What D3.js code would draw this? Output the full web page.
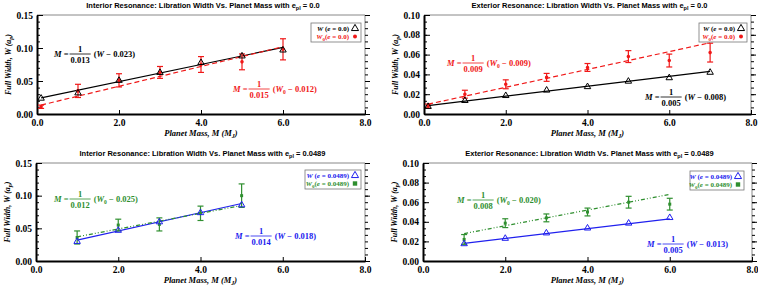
<!DOCTYPE html>
<html>
<head>
<meta charset="utf-8">
<script src="https://cdn.jsdelivr.net/npm/d3@7"></script>
<style>
  body { margin: 0; background: #fff; }
  svg { display: block; }
</style>
</head>
<body>
<div id="chart"></div>
<script>
// ---- data ----
// top-left: interior, e_pl = 0.0
var massIntE0 = [0.1, 1, 2, 3, 4, 5, 6];
var wIntE0 = [0.023, 0.031, 0.050, 0.062, 0.077, 0.087, 0.096];
var w0IntE0 = [0.011, 0.035, 0.051, 0.063, 0.075, 0.079, 0.098];
var errIntE0 = [0.0025, 0.010, 0.010, 0.009, 0.012, 0.012, 0.016];
var fitIntE0W = [0.023, 0.013];   // intercept, slope
var fitIntE0W0 = [0.012, 0.015];

// top-right: exterior, e_pl = 0.0
var massExtE0 = [0.1, 1, 2, 3, 4, 5, 6, 7];
var wExtE0 = [0.007, 0.013, 0.018, 0.0235, 0.027, 0.0325, 0.036, 0.0415];
var w0ExtE0 = [0.008, 0.020, 0.030, 0.037, 0.047, 0.058, 0.054, 0.062];
var errExtE0 = [0.002, 0.004, 0.0045, 0.004, 0.004, 0.006, 0.0065, 0.0095];
var fitExtE0W = [0.008, 0.005];
var fitExtE0W0 = [0.009, 0.009];

// bottom-left: interior, e_pl = 0.0489
var massIntE1 = [1, 2, 3, 4, 5];
var wIntE1 = [0.029, 0.046, 0.059, 0.073, 0.085];
var w0IntE1 = [0.036, 0.055, 0.056, 0.073, 0.100];
var errIntE1 = [0.010, 0.009, 0.010, 0.011, 0.018];
var fitIntE1W = [0.018, 0.014];
var fitIntE1W0 = [0.025, 0.012];

// bottom-right: exterior, e_pl = 0.0489
var massExtE1 = [1, 2, 3, 4, 5, 6];
var wExtE1 = [0.017, 0.0225, 0.028, 0.033, 0.038, 0.0437];
var w0ExtE1 = [0.022, 0.0386, 0.044, 0.050, 0.060, 0.058];
var errExtE1 = [0.005, 0.0045, 0.004, 0.004, 0.006, 0.006];
var fitExtE1W = [0.013, 0.005];
var fitExtE1W0 = [0.020, 0.008];

var xTicks = [0, 2, 4, 6, 8];

// ---- drawing ----
var svg = d3.select("#chart").append("svg")
  .attr("width", 758).attr("height", 291);

var serif = "'Liberation Serif', 'DejaVu Serif', serif";
var sans = "'Liberation Sans', Arial, sans-serif";

function drawPanel(p) {
  var g = svg.append("g");
  var x = d3.scaleLinear().domain([0, 8]).range([p.left, p.right]);
  var y = d3.scaleLinear().domain([0, p.ymax]).range([p.bottom, p.top]);

  // frame: top / right thin grey
  g.append("line").attr("x1", p.left).attr("x2", p.right).attr("y1", p.top).attr("y2", p.top)
    .attr("stroke", "#888").attr("stroke-width", 1);
  g.append("line").attr("x1", p.right).attr("x2", p.right).attr("y1", p.top).attr("y2", p.bottom)
    .attr("stroke", "#888").attr("stroke-width", 1);

  // minor ticks
  var minor = d3.range(0, p.ymax + 1e-9, p.ymajor / p.nminor);
  g.append("g").attr("transform", "translate(" + p.left + ",0)")
    .call(d3.axisLeft(y).tickValues(minor).tickFormat("").tickSize(-3).tickSizeOuter(0))
    .call(function (a) { a.select(".domain").remove(); });
  g.append("g").attr("transform", "translate(" + p.right + ",0)")
    .call(d3.axisRight(y).tickValues(minor).tickFormat("").tickSize(3).tickSizeOuter(0))
    .call(function (a) { a.select(".domain").remove(); });
  g.append("g").attr("transform", "translate(" + p.right + ",0)")
    .call(d3.axisRight(y).tickValues(d3.range(0, p.ymax + 1e-9, p.ymajor)).tickFormat("").tickSize(5).tickSizeOuter(0))
    .call(function (a) { a.select(".domain").remove(); });

  // left axis
  var yAxis = g.append("g").attr("transform", "translate(" + p.left + ",0)")
    .call(d3.axisLeft(y).tickValues(d3.range(0, p.ymax + 1e-9, p.ymajor))
      .tickFormat(d3.format(".2f")).tickSize(-6).tickSizeOuter(0).tickPadding(4));
  yAxis.select(".domain").attr("stroke-width", 2);
  yAxis.selectAll("text").style("font-family", serif).style("font-weight", "bold").style("font-size", "9.5px");

  // bottom axis
  var xAxis = g.append("g").attr("transform", "translate(0," + p.bottom + ")")
    .call(d3.axisBottom(x).tickValues(xTicks).tickFormat(d3.format(".1f"))
      .tickSize(-4).tickSizeOuter(0).tickPadding(5));
  xAxis.select(".domain").attr("stroke-width", 2);
  xAxis.selectAll("text").style("font-family", serif).style("font-weight", "bold").style("font-size", "9.5px");

  // title
  var t = g.append("text").attr("x", (p.left + p.right) / 2 + 2).attr("y", p.top - 7)
    .attr("text-anchor", "middle").style("font-family", sans).style("font-weight", "bold")
    .style("font-size", "7.5px").text(p.title + " with e");
  t.append("tspan").attr("dy", 2).style("font-size", "5.5px").text("pl");
  t.append("tspan").attr("dy", -2).text(" = " + p.ecc);

  // x label
  var xl = g.append("text").attr("x", (p.left + p.right) / 2).attr("y", p.bottom + 22)
    .attr("text-anchor", "middle").style("font-family", serif).style("font-weight", "bold")
    .style("font-style", "italic").style("font-size", "8.5px").text("Planet Mass, M (M");
  xl.append("tspan").attr("dy", 2).style("font-size", "6px").text("J");
  xl.append("tspan").attr("dy", -2).text(")");

  // y label
  var yc = (p.top + p.bottom) / 2;
  var yl = g.append("text").attr("transform", "translate(" + (p.left - 26) + "," + yc + ") rotate(-90)")
    .attr("text-anchor", "middle").style("font-family", serif).style("font-weight", "bold")
    .style("font-style", "italic").style("font-size", "8px").text("Full Width, W (a");
  yl.append("tspan").attr("dy", 2).style("font-size", "6px").text("p");
  yl.append("tspan").attr("dy", -2).text(")");

  // fit lines
  function fitLine(fit, color, dash, mass) {
    var m0 = d3.min(mass), m1 = d3.max(mass);
    g.append("line")
      .attr("x1", x(m0)).attr("y1", y(fit[0] + fit[1] * m0))
      .attr("x2", x(m1)).attr("y2", y(fit[0] + fit[1] * m1))
      .attr("stroke", color).attr("stroke-width", 1.2)
      .attr("stroke-dasharray", dash);
  }
  fitLine(p.fitW, p.cW, null, p.mass);
  fitLine(p.fitW0, p.cW0, p.dashW0, p.mass);

  // error bars
  var eb = g.append("g").attr("stroke", p.cW0).attr("stroke-width", 1.2);
  p.mass.forEach(function (m, i) {
    var lo = y(p.w0[i] - p.err[i]), hi = y(p.w0[i] + p.err[i]);
    eb.append("line").attr("x1", x(m)).attr("x2", x(m)).attr("y1", lo).attr("y2", hi);
    eb.append("line").attr("x1", x(m) - 3).attr("x2", x(m) + 3).attr("y1", lo).attr("y2", lo);
    eb.append("line").attr("x1", x(m) - 3).attr("x2", x(m) + 3).attr("y1", hi).attr("y2", hi);
  });

  // W0 markers
  var sym0 = d3.symbol().type(p.shapeW0).size(p.shapeW0 === d3.symbolSquare ? 9 : 10);
  g.selectAll(".w0").data(p.w0).enter().append("path")
    .attr("d", sym0)
    .attr("transform", function (d, i) { return "translate(" + x(p.mass[i]) + "," + y(d) + ")"; })
    .attr("fill", p.cW0);

  // W markers (open triangles)
  var tri = d3.symbol().type(d3.symbolTriangle).size(18);
  g.selectAll(".w").data(p.w).enter().append("path")
    .attr("d", tri)
    .attr("transform", function (d, i) { return "translate(" + x(p.mass[i]) + "," + (y(d) - 0.5) + ")"; })
    .attr("fill", "none").attr("stroke", p.cW).attr("stroke-width", 1);

  // equations
  p.eqs.forEach(function (e) { equation(g, e); });

  // legend
  var L = p.legend;
  g.append("rect").attr("x", L.x).attr("y", L.y).attr("width", L.w).attr("height", 19)
    .attr("fill", "#fff").attr("stroke", "#777").attr("stroke-width", 0.8);
  legendRow(g, L.x + L.w - 12, L.y + 8, "W", "", p.ecc, p.cW, "tri");
  legendRow(g, L.x + L.w - 12, L.y + 16, "W", "0", p.ecc, p.cW0, p.shapeW0 === d3.symbolSquare ? "sq" : "dot");
}

function legendRow(g, xr, yb, v, sub, ecc, color, mark) {
  var t = g.append("text").attr("x", xr).attr("y", yb).attr("text-anchor", "end")
    .style("font-family", serif).style("font-size", "7px").style("font-weight", "bold").attr("fill", color);
  t.append("tspan").style("font-style", "italic").text(v);
  if (sub) t.append("tspan").attr("dy", 1.5).style("font-size", "5px").text(sub);
  t.append("tspan").attr("dy", sub ? -1.5 : 0).text(sub ? "(" : " (");
  t.append("tspan").style("font-style", "italic").text("e");
  t.append("tspan").text(" = " + ecc + ")");
  var cx = xr + 6, cy = yb - 2.5;
  if (mark === "tri") {
    g.append("path").attr("d", d3.symbol().type(d3.symbolTriangle).size(22)())
      .attr("transform", "translate(" + cx + "," + cy + ")")
      .attr("fill", "none").attr("stroke", color).attr("stroke-width", 1);
  } else if (mark === "dot") {
    g.append("circle").attr("cx", cx).attr("cy", cy).attr("r", 2).attr("fill", color);
  } else {
    g.append("rect").attr("x", cx - 2.2).attr("y", cy - 2.2).attr("width", 4.4).attr("height", 4.4).attr("fill", color);
  }
}

function equation(g, e) {
  var fs = "8.5px";
  var style = function (s) {
    return s.style("font-family", serif).style("font-weight", "bold").style("font-size", fs).attr("fill", e.color);
  };
  var a = style(g.append("text").attr("x", e.x).attr("y", e.y + 3));
  a.append("tspan").style("font-style", "italic").text("M");
  a.append("tspan").text(" = ");
  var w1 = a.node().getComputedTextLength();
  var fx = e.x + w1 + 1;
  var den = style(g.append("text").attr("x", fx).attr("y", e.y + 9)).text(e.den);
  var fw = den.node().getComputedTextLength() + 2;
  den.attr("x", fx + 1);
  style(g.append("text").attr("x", fx + fw / 2).attr("y", e.y - 2).attr("text-anchor", "middle")).text("1");
  g.append("line").attr("x1", fx).attr("x2", fx + fw).attr("y1", e.y).attr("y2", e.y)
    .attr("stroke", e.color).attr("stroke-width", 0.8);
  var b = style(g.append("text").attr("x", fx + fw + 3).attr("y", e.y + 3));
  b.append("tspan").text("(");
  b.append("tspan").style("font-style", "italic").text("W");
  if (e.sub) {
    b.append("tspan").attr("dy", 1.5).style("font-size", "5.5px").text(e.sub);
    b.append("tspan").attr("dy", -1.5).text(" \u2212 " + e.c + ")");
  } else {
    b.append("tspan").text(" \u2212 " + e.c + ")");
  }
}

var red = "#f01818", green = "#2f8f2f", blue = "#2020ee";

drawPanel({
  left: 37, right: 365, top: 15, bottom: 114, ymax: 0.15, ymajor: 0.05, nminor: 5,
  title: "Interior Resonance: Libration Width Vs. Planet Mass", ecc: "0.0",
  mass: massIntE0, w: wIntE0, w0: w0IntE0, err: errIntE0, fitW: fitIntE0W, fitW0: fitIntE0W0,
  cW: "#000", cW0: red, dashW0: "5,3", shapeW0: d3.symbolCircle,
  legend: { x: 311, y: 23, w: 50 },
  eqs: [
    { x: 54, y: 54, den: "0.013", sub: "", c: "0.023", color: "#000" },
    { x: 233, y: 89, den: "0.015", sub: "0", c: "0.012", color: red }
  ]
});

drawPanel({
  left: 424, right: 751, top: 15, bottom: 114, ymax: 0.10, ymajor: 0.02, nminor: 3,
  title: "Exterior Resonance: Libration Width Vs. Planet Mass", ecc: "0.0",
  mass: massExtE0, w: wExtE0, w0: w0ExtE0, err: errExtE0, fitW: fitExtE0W, fitW0: fitExtE0W0,
  cW: "#000", cW0: red, dashW0: "5,3", shapeW0: d3.symbolCircle,
  legend: { x: 699, y: 23, w: 48 },
  eqs: [
    { x: 447, y: 63, den: "0.009", sub: "0", c: "0.009", color: red },
    { x: 645, y: 97, den: "0.005", sub: "", c: "0.008", color: "#000" }
  ]
});

drawPanel({
  left: 36, right: 365, top: 163, bottom: 261, ymax: 0.15, ymajor: 0.05, nminor: 5,
  title: "Interior Resonance: Libration Width Vs. Planet Mass", ecc: "0.0489",
  mass: massIntE1, w: wIntE1, w0: w0IntE1, err: errIntE1, fitW: fitIntE1W, fitW0: fitIntE1W0,
  cW: blue, cW0: green, dashW0: "4,2,1,2,1,2", shapeW0: d3.symbolSquare,
  legend: { x: 305, y: 170, w: 56 },
  eqs: [
    { x: 54, y: 199, den: "0.012", sub: "0", c: "0.025", color: green },
    { x: 235, y: 236, den: "0.014", sub: "", c: "0.018", color: blue }
  ]
});

drawPanel({
  left: 423, right: 752, top: 163, bottom: 261, ymax: 0.10, ymajor: 0.02, nminor: 3,
  title: "Exterior Resonance: Libration Width Vs. Planet Mass", ecc: "0.0489",
  mass: massExtE1, w: wExtE1, w0: w0ExtE1, err: errExtE1, fitW: fitExtE1W, fitW0: fitExtE1W0,
  cW: blue, cW0: green, dashW0: "4,2,1,2,1,2", shapeW0: d3.symbolSquare,
  legend: { x: 690, y: 171, w: 54 },
  eqs: [
    { x: 457, y: 200, den: "0.008", sub: "0", c: "0.020", color: green },
    { x: 647, y: 244, den: "0.005", sub: "", c: "0.013", color: blue }
  ]
});
</script>
</body>
</html>
